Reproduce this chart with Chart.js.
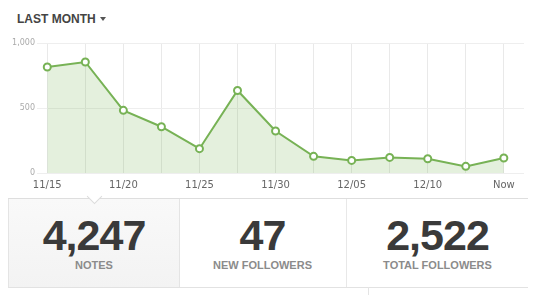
<!DOCTYPE html>
<html>
<head>
<meta charset="utf-8">
<script src="https://cdn.jsdelivr.net/npm/chart.js@4/dist/chart.umd.min.js"></script>
<style>
  body { margin: 0; background: #fff; font-family: "Liberation Sans", Arial, sans-serif; }
  #wrap { position: relative; width: 540px; height: 295px; overflow: hidden; }
  #head { position: absolute; left: 17px; top: 13px; font-size: 12px; line-height: 12px; font-weight: bold; color: #444; }
  #arrow { position: absolute; left: 100px; top: 17px; width: 0; height: 0;
    border-left: 3.5px solid transparent; border-right: 3.5px solid transparent; border-top: 4px solid #555; }
  #box { position: absolute; left: 0; top: 0; width: 530px; height: 198px; }
  #panel { position: absolute; left: 8px; top: 198px; width: 520px; height: 88px;
    border-top: 1px solid #dedede; border-bottom: 1px solid #e2e2e2; }
  .cell { position: absolute; top: 0; height: 88px; }
  .num { position: absolute; left: 0; right: 0; top: 15px; text-align: center; font-size: 43px; line-height: 43px;
    font-weight: bold; color: #3a3a3a; letter-spacing: -1px; }
  .lbl { position: absolute; left: 0; right: 0; top: 61px; text-align: center; font-size: 11px; line-height: 11px;
    font-weight: bold; color: #8b8b8b; }
  #c1 { left: 0; width: 170px; background: linear-gradient(#f9f9f9, #f3f3f3); border-left: 1px solid #e4e4e4; border-right: 1px solid #e4e4e4; }
  #c2 { left: 171px; width: 167px; border-right: 1px solid #e8e8e8; }
  #c3 { left: 339px; width: 181px; }
  #notch { position: absolute; left: 89px; top: 191px; width: 10px; height: 10px; background: #fff;
    border-right: 1px solid #dcdcdc; border-bottom: 1px solid #dcdcdc; transform: rotate(45deg); }
  #tail { position: absolute; left: 368px; top: 287px; width: 1px; height: 8px; background: #e4e4e4; }
</style>
</head>
<body>
<div id="wrap">
  <div id="head">LAST MONTH</div>
  <div id="arrow"></div>
  <div id="box"><canvas id="chart" width="530" height="198"></canvas></div>
  <div id="panel">
    <div class="cell" id="c1"><div class="num">4,247</div><div class="lbl">NOTES</div></div>
    <div class="cell" id="c2"><div class="num">47</div><div class="lbl">NEW FOLLOWERS</div></div>
    <div class="cell" id="c3"><div class="num">2,522</div><div class="lbl">TOTAL FOLLOWERS</div></div>
  </div>
  <div id="notch"></div>
  <div id="tail"></div>
</div>
<script>
// notes per point, last month
var dayLabels = ['11/15', '', '11/20', '', '11/25', '', '11/30', '', '12/05', '', '12/10', '', 'Now'];
var notes = [815, 854, 482, 356, 187, 635, 323, 128, 97, 120, 110, 51, 115];
var yTicks = [0, 500, 1000];

var points = notes.map(function (v, i) { return { x: i, y: v }; });

var green = 'rgb(119,178,85)';

new Chart(document.getElementById('chart'), {
  type: 'line',
  data: {
    datasets: [{
      data: points,
      borderColor: green,
      borderWidth: 2,
      backgroundColor: 'rgba(119,178,85,0.2)',
      fill: 'origin',
      tension: 0,
      pointRadius: 3.5,
      pointBorderWidth: 2,
      pointBackgroundColor: '#fff',
      pointBorderColor: green
    }]
  },
  options: {
    responsive: false,
    animation: false,
    layout: { padding: { top: 43, right: 2, left: 0, bottom: 0 } },
    plugins: { legend: { display: false }, tooltip: { enabled: false } },
    scales: {
      x: {
        type: 'linear',
        min: -0.27,
        max: 12.53,
        afterBuildTicks: function (axis) {
          axis.ticks = dayLabels.map(function (_, i) { return { value: i }; });
        },
        afterFit: function (axis) { axis.height = 25; },
        border: { display: false },
        grid: { color: '#e9e9e9', drawTicks: false },
        ticks: {
          autoSkip: false,
          maxRotation: 0,
          padding: 6,
          color: '#666',
          font: { family: 'DejaVu Sans', size: 10 },
          callback: function (v) { return dayLabels[v]; }
        }
      },
      y: {
        min: 0,
        max: 1000,
        afterBuildTicks: function (axis) {
          axis.ticks = yTicks.map(function (v) { return { value: v }; });
        },
        afterFit: function (axis) { axis.width = 37; },
        border: { display: false },
        grid: { color: '#eeeeee', drawTicks: false },
        ticks: {
          padding: 2,
          color: '#aaa',
          font: { family: 'DejaVu Sans', size: 8 },
          callback: function (v) { return v.toLocaleString('en-US'); }
        }
      }
    }
  }
});
</script>
</body>
</html>
